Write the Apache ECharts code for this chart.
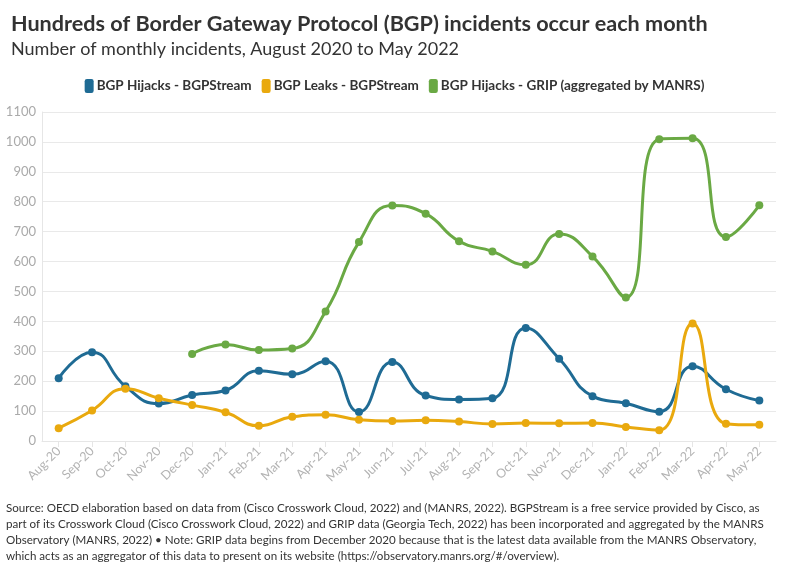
<!DOCTYPE html>
<html>
<head>
<meta charset="utf-8">
<script src="https://cdn.jsdelivr.net/npm/echarts@6/dist/echarts.min.js"></script>
<style>html,body{margin:0;padding:0;background:#fff}#c{width:789px;height:573px}</style>
</head>
<body>
<div id="c"></div>
<script>
const categories = ['Aug-20','Sep-20','Oct-20','Nov-20','Dec-20','Jan-21','Feb-21','Mar-21','Apr-21','May-21','Jun-21','Jul-21','Aug-21','Sep-21','Oct-21','Nov-21','Dec-21','Jan-22','Feb-22','Mar-22','Apr-22','May-22'];
const hijacksBGPStream = [210,297,183,125,154,169,235,223,267,97,264,152,139,143,378,275,150,126,98,250,173,135];
const leaksBGPStream = [43,102,175,143,120,96,51,81,88,71,67,69,65,57,60,59,60,47,36,393,58,54];
const hijacksGRIP = [null,null,null,null,291,323,304,309,433,665,787,760,668,634,589,692,617,480,1009,1012,682,788];
const yTicks = [0,100,200,300,400,500,600,700,800,900,1000,1100];

const FONT = 'Lato, "Noto Sans", sans-serif';
const footerLines = [
 'Source: OECD elaboration based on data from (Cisco Crosswork Cloud, 2022) and (MANRS, 2022). BGPStream is a free service provided by Cisco, as',
 'part of its Crosswork Cloud (Cisco Crosswork Cloud, 2022) and GRIP data (Georgia Tech, 2022) has been incorporated and aggregated by the MANRS',
 'Observatory (MANRS, 2022) \u2022 Note: GRIP data begins from December 2020 because that is the latest data available from the MANRS Observatory,',
 'which acts as an aggregator of this data to present on its website (https://observatory.manrs.org/#/overview).'
];

const chart = echarts.init(document.getElementById('c'), null, {renderer:'canvas'});
function mk(name, data, color){
  return {name, type:'line', data, smooth:0.5, connectNulls:false,
    symbol:'circle', symbolSize:8, showSymbol:true,
    lineStyle:{width:3, color}, itemStyle:{color}, emphasis:{disabled:true}};
}
chart.setOption({
  animation:false,
  textStyle:{fontFamily:FONT},
  title:[
    {text:'Hundreds of Border Gateway Protocol (BGP) incidents occur each month', left:6, top:8,
     textStyle:{fontFamily:FONT, fontSize:21.6, fontWeight:'bold', color:'#333'}},
    {text:'Number of monthly incidents, August 2020 to May 2022', left:6, top:35,
     textStyle:{fontFamily:FONT, fontSize:18, fontWeight:'normal', color:'#333'}}
  ],
  legend:{top:74, left:'center', icon:'roundRect', itemWidth:9, itemHeight:14, itemGap:10,
    textStyle:{fontFamily:FONT, fontSize:13.5, fontWeight:'bold', color:'#333', padding:[0,0,0,-2]},
    data:['BGP Hijacks - BGPStream','BGP Leaks - BGPStream','BGP Hijacks - GRIP (aggregated by MANRS)']},
  grid:{left:42, right:13, top:112, bottom:132, containLabel:false},
  xAxis:{type:'category', data:categories, boundaryGap:true,
    axisLine:{lineStyle:{color:'#e6e6e6'}},
    axisTick:{show:true, alignWithLabel:true, length:6, lineStyle:{color:'#e6e6e6'}},
    axisLabel:{rotate:45, color:'#b3b3b3', fontSize:12.5, fontFamily:FONT, interval:0, margin:8},
    splitLine:{show:false}},
  yAxis:{type:'value', min:0, max:1100, interval:100,
    axisLine:{show:true, lineStyle:{color:'#e6e6e6'}},
    axisLabel:{color:'#aaa', fontSize:13, fontFamily:FONT, margin:6,
      formatter:(v)=> yTicks.includes(v) ? String(v) : ''},
    splitLine:{lineStyle:{color:'#e9e9e9'}}},
  series:[
    mk('BGP Hijacks - BGPStream', hijacksBGPStream, '#1f6b94'),
    mk('BGP Leaks - BGPStream', leaksBGPStream, '#e9a90e'),
    mk('BGP Hijacks - GRIP (aggregated by MANRS)', hijacksGRIP, '#6aa944')
  ],
  graphic:[{type:'text', left:6, top:500,
    style:{text:footerLines.join('\n'), fontFamily:FONT, fontSize:11.6, lineHeight:16, fill:'#333'}}]
});
</script>
</body>
</html>
